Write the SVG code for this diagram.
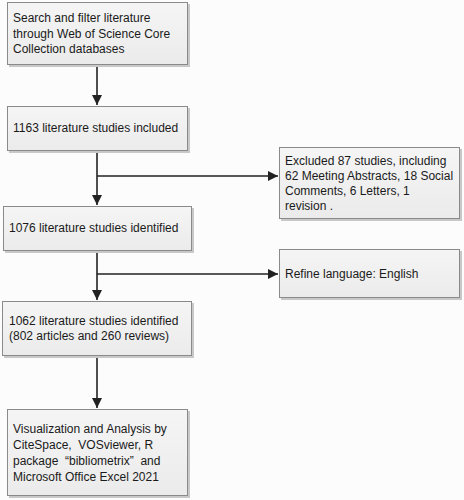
<svg xmlns="http://www.w3.org/2000/svg" width="464" height="500" viewBox="0 0 464 500">
<defs>
<linearGradient id="g" x1="0" y1="0" x2="0" y2="1">
<stop offset="0" stop-color="#f5f5f5"/>
<stop offset="1" stop-color="#ebebeb"/>
</linearGradient>
<marker id="ah" markerWidth="10" markerHeight="10" refX="10" refY="5" orient="auto" markerUnits="userSpaceOnUse">
<path d="M0,0 L10,5 L0,10 Z" fill="#222"/>
</marker>
</defs>
<style>
.box{fill:url(#g);stroke:#8a8a8a;stroke-width:1}
.sh{fill:#c8c8c8}
.t{font-family:"Liberation Sans",Arial,sans-serif;font-size:12px;fill:#1a1a1a}
.c{stroke:#222;stroke-width:1.6;fill:none}
</style>
<rect width="464" height="500" fill="#fcfcfc"/>
<g id="connectors">
<path class="c" d="M97,65 V105" marker-end="url(#ah)"/>
<path class="c" d="M97,151 V205" marker-end="url(#ah)"/>
<path class="c" d="M97,176 H278" marker-end="url(#ah)"/>
<path class="c" d="M97,251 V300" marker-end="url(#ah)"/>
<path class="c" d="M97,274 H278" marker-end="url(#ah)"/>
<path class="c" d="M97,356 V408" marker-end="url(#ah)"/>
</g>
<g id="n1">
<rect class="sh" x="9" y="4" width="181" height="63"/>
<rect class="box" x="7.5" y="2.5" width="180" height="62"/>
<text class="t" x="13" y="22">Search and filter literature</text>
<text class="t" x="13" y="38">through Web of Science Core</text>
<text class="t" x="13" y="53">Collection databases</text>
</g>
<g id="n2">
<rect class="sh" x="9" y="108" width="181" height="45"/>
<rect class="box" x="7.5" y="106.5" width="180" height="44"/>
<text class="t" x="13" y="132">1163 literature studies included</text>
</g>
<g id="n3">
<rect class="sh" x="5" y="208" width="189" height="45"/>
<rect class="box" x="3.5" y="206.5" width="188" height="44"/>
<text class="t" x="9" y="232">1076 literature studies identified</text>
</g>
<g id="n4">
<rect class="sh" x="4" y="303" width="190" height="55"/>
<rect class="box" x="2.5" y="301.5" width="189" height="54"/>
<text class="t" x="9" y="325">1062 literature studies identified</text>
<text class="t" x="9" y="340">(802 articles and 260 reviews)</text>
</g>
<g id="n5">
<rect class="sh" x="9" y="411" width="181" height="87"/>
<rect class="box" x="7.5" y="409.5" width="180" height="86"/>
<text class="t" x="13" y="433">Visualization and Analysis by</text>
<text class="t" x="13" y="449" xml:space="preserve">CiteSpace,  VOSviewer, R</text>
<text class="t" x="13" y="465" xml:space="preserve">package  “bibliometrix”  and</text>
<text class="t" x="13" y="481">Microsoft Office Excel 2021</text>
</g>
<g id="n6">
<rect class="sh" x="281" y="149" width="181" height="72"/>
<rect class="box" x="279.5" y="147.5" width="180" height="71"/>
<text class="t" x="285" y="165">Excluded 87 studies, including</text>
<text class="t" x="285" y="180">62 Meeting Abstracts, 18 Social</text>
<text class="t" x="285" y="195">Comments, 6 Letters, 1</text>
<text class="t" x="285" y="210">revision .</text>
</g>
<g id="n7">
<rect class="sh" x="281" y="251" width="181" height="49"/>
<rect class="box" x="279.5" y="249.5" width="180" height="48"/>
<text class="t" x="285" y="278">Refine language: English</text>
</g>
</svg>
